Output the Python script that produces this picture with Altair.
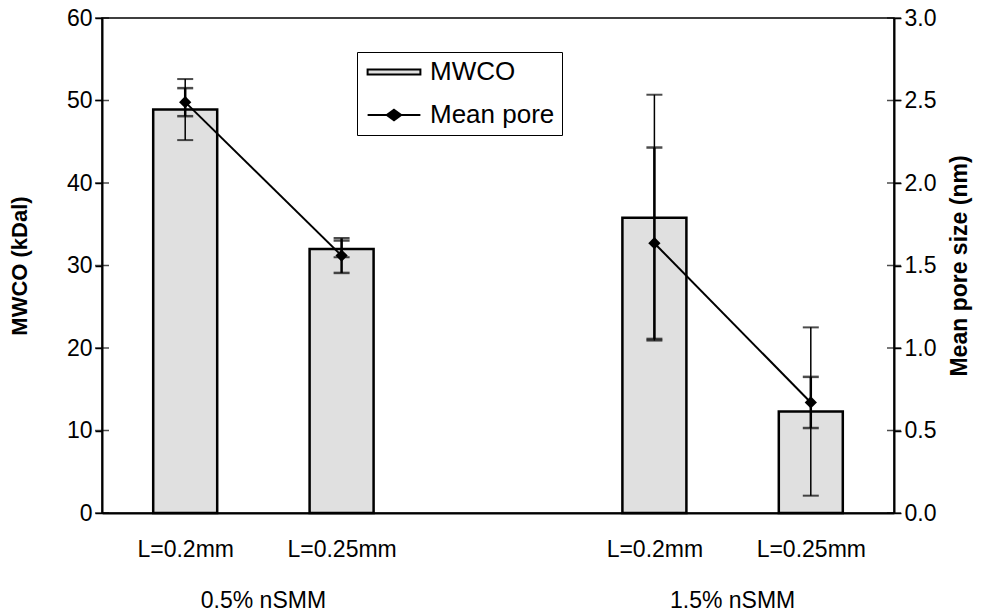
import json
import altair as alt
import pandas as pd

FONT = "Liberation Sans"

# ---- data ----
categories = ["L=0.2mm", "L=0.25mm", "", "L=0.2mm", "L=0.25mm"]
groups = ["0.5% nSMM", "0.5% nSMM", "", "1.5% nSMM", "1.5% nSMM"]
mwco = [48.9, 32.0, None, 35.8, 12.3]
mwco_err = [3.7, 1.0, None, 14.9, 10.2]
pore = [2.49, 1.56, None, 1.635, 0.67]
pore_err = [0.085, 0.105, None, 0.58, 0.155]
mwco_ticks = [0, 10, 20, 30, 40, 50, 60]
pore_ticks = [0.0, 0.5, 1.0, 1.5, 2.0, 2.5, 3.0]
series_names = ["MWCO", "Mean pore"]

df = pd.DataFrame({
    "category": categories,
    "group": groups,
    "mwco": mwco,
    "mwco_err": mwco_err,
    "pore": pore,
    "pore_err": pore_err,
})
df["slot"] = list(range(1, len(categories) + 1))
data = df[df["mwco"].notna()].reset_index(drop=True)
slots = data["slot"].tolist()

W, H = 792, 495
LBL = 23

x_scale = alt.Scale(domain=[0.5, len(categories) + 0.5], nice=False, zero=False)
x_axis = alt.Axis(
    values=slots,
    labelExpr=f"{json.dumps(categories)}[datum.value - 1]",
    ticks=False,
    labelFontSize=LBL,
    labelPadding=25,
    labelBaseline="top",
    labelOverlap=False,
    labelFont=FONT,
    title=None,
    domainWidth=2,
)
X = lambda f: alt.X(f, scale=x_scale, axis=x_axis)

l_scale = alt.Scale(domain=[0, 60], nice=False)
l_axis = alt.Axis(
    values=mwco_ticks, title="MWCO (kDal)", titleFontSize=22, titleFontWeight="bold",
    labelFontSize=LBL, tickSize=7, labelPadding=3, titlePadding=35, orient="left",
    domainWidth=2,
)
YL = lambda f: alt.Y(f, scale=l_scale, axis=l_axis)

r_scale = alt.Scale(domain=[0, 3], nice=False)
r_axis = alt.Axis(
    values=pore_ticks, format=".1f", title="Mean pore size (nm)", titleFontSize=23,
    titleFontWeight="bold", labelFontSize=LBL, tickSize=7, labelPadding=3, titlePadding=36,
    orient="right", titleAngle=270, domainWidth=2,
)
YR = lambda f: alt.Y(f, scale=r_scale, axis=r_axis)

rect_path = "M-2.2,-0.2H2.2V0.2H-2.2Z"
line_path = "M-2.2,0H2.2M0,-0.44L0.6,0L0,0.44L-0.6,0Z"

legend = alt.Legend(
    orient="none", legendX=255, legendY=34, strokeColor="black", fillColor="white",
    padding=7, labelFontSize=26, labelFont=FONT, labelColor="black",
    symbolSize=576, symbolStrokeColor="black", symbolStrokeWidth=2,
    symbolOffset=17, rowPadding=17, labelOffset=23,
)
fill_enc = alt.Fill(
    "series:N", title=None,
    scale=alt.Scale(domain=series_names, range=["#e0e0e0", "black"]),
    legend=legend,
)
shape_enc = alt.Shape(
    "series:N", title=None,
    scale=alt.Scale(domain=series_names, range=[rect_path, line_path]),
    legend=legend,
)

base = alt.Chart(data)

bars = base.transform_calculate(series="'MWCO'").mark_bar(
    size=64, stroke="black", strokeWidth=2.5
).encode(x=X("slot:Q"), y=YL("mwco:Q"), fill=fill_enc)

mw = base.transform_calculate(
    lo="datum.mwco - datum.mwco_err", hi="datum.mwco + datum.mwco_err"
)
mw_rule = mw.mark_rule(color="black", strokeWidth=1.5).encode(
    x=X("slot:Q"), y=YL("lo:Q"), y2="hi:Q")
mw_lo = mw.mark_tick(orient="horizontal", size=16, thickness=2, color="black").encode(
    x=X("slot:Q"), y=YL("lo:Q"))
mw_hi = mw.mark_tick(orient="horizontal", size=16, thickness=2, color="black").encode(
    x=X("slot:Q"), y=YL("hi:Q"))

ltick = alt.Chart(pd.DataFrame({"v": mwco_ticks})).mark_tick(
    orient="horizontal", size=14, thickness=1.5, color="black"
).encode(x=alt.value(0), y=YL("v:Q"))

group_text = base.transform_aggregate(
    center="mean(slot)", groupby=["group"]
).mark_text(fontSize=LBL, font=FONT, baseline="middle", color="black").encode(
    x=X("center:Q"), y=alt.value(583), text="group:N")

left = alt.layer(bars, mw_rule, mw_lo, mw_hi, ltick, group_text)

pr = base.transform_calculate(
    lo="datum.pore - datum.pore_err", hi="datum.pore + datum.pore_err"
)
pr_rule = pr.mark_rule(color="black", strokeWidth=2.5).encode(
    x=X("slot:Q"), y=YR("lo:Q"), y2="hi:Q")
pr_lo = pr.mark_tick(orient="horizontal", size=16, thickness=2.5, color="black").encode(
    x=X("slot:Q"), y=YR("lo:Q"))
pr_hi = pr.mark_tick(orient="horizontal", size=16, thickness=2.5, color="black").encode(
    x=X("slot:Q"), y=YR("hi:Q"))

line = base.mark_line(color="black", strokeWidth=2).encode(
    x=X("slot:Q"), y=YR("pore:Q"), detail="group:N")
points = base.transform_calculate(series="'Mean pore'").mark_point(
    shape="diamond", filled=True, size=150, opacity=1
).encode(x=X("slot:Q"), y=YR("pore:Q"), fill=fill_enc)
# carries the legend symbol shapes only (zero-size marks)
legend_shapes = base.transform_calculate(series="'Mean pore'").mark_point(size=0).encode(
    x=X("slot:Q"), y=YR("pore:Q"), shape=shape_enc)

rtick = alt.Chart(pd.DataFrame({"v": pore_ticks})).mark_tick(
    orient="horizontal", size=14, thickness=1.5, color="black"
).encode(x=alt.value("width"), y=YR("v:Q"))

right = alt.layer(line, pr_rule, pr_lo, pr_hi, points, legend_shapes, rtick)

chart = alt.layer(left, right).resolve_scale(y="independent").properties(
    width=W, height=H,
    autosize=alt.AutoSizeParams(type="none"),
    padding={"left": 102, "top": 18, "right": 100, "bottom": 99},
    background="white",
).configure_view(stroke="black", strokeWidth=1.5).configure_axis(
    domainColor="black", tickColor="black", tickWidth=1.5, labelColor="black",
    titleColor="black", labelFont=FONT, titleFont=FONT, grid=False,
)

chart.save("out.html", embed_options={"renderer": "svg", "actions": False})
